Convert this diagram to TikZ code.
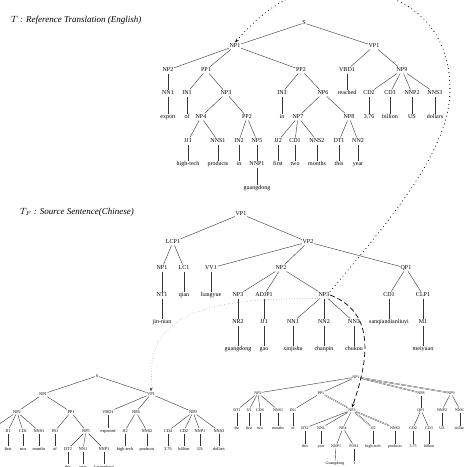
\documentclass[tikz,border=0pt]{standalone}
\usepackage{fontspec}
\setmainfont{Liberation Serif}
\usetikzlibrary{arrows.meta}
\tikzset{
  tl/.style={font=\fontsize{6}{7}\selectfont, inner sep=0.6pt, text height=4.2pt, text depth=1.2pt},
  bl/.style={font=\fontsize{4.3}{5}\selectfont, inner sep=0.5pt, text height=3pt, text depth=0.9pt},
  br/.style={font=\fontsize{4}{5}\selectfont, inner sep=0.5pt, text height=2.8pt, text depth=0.8pt},
  ttl/.style={font=\fontsize{9}{10}\selectfont\itshape, anchor=west, inner sep=0pt},
  ed/.style={draw=black!80, line width=0.4pt},
  dbl/.style={draw=black!85, line width=0.25pt, double, double distance=0.6pt},
  bigdots/.style={line width=1.1pt, line cap=round, dash pattern=on 0pt off 4pt},
  finedots/.style={draw=black!70, line width=0.5pt, line cap=round, dash pattern=on 0pt off 2.6pt},
  dsh/.style={line width=0.7pt, dash pattern=on 5pt off 3pt},
  tip/.style={-{Stealth[length=4pt,width=3pt]}}
}
\begin{document}
\begin{tikzpicture}[x=1pt,y=-1pt]
\useasboundingbox (0,0) rectangle (464,467);
\clip (0,0) rectangle (464,467);
% ---------------- titles
\node[ttl] (title1) at (11,20) {$T$ : Reference Translation (English)};
\node[ttl] (title2) at (20,212) {$T_F$ : Source Sentence(Chinese)};
% ---------------- top tree
\node[tl] (a_S) at (304,23) {S};
\node[tl] (a_NP1) at (235,46) {NP1};
\node[tl] (a_VP1) at (374,46) {VP1};
\node[tl] (a_NP2) at (168,70) {NP2};
\node[tl] (a_PP1) at (206,70) {PP1};
\node[tl] (a_PP2) at (301,70) {PP2};
\node[tl] (a_VBD1) at (347,70) {VBD1};
\node[tl] (a_NP9) at (402,70) {NP9};
\node[tl] (a_NN1) at (168,93) {NN1};
\node[tl] (a_IN1) at (187,93) {IN1};
\node[tl] (a_NP3) at (226,93) {NP3};
\node[tl] (a_IN3) at (282,93) {IN3};
\node[tl] (a_NP6) at (323,93) {NP6};
\node[tl] (a_reached) at (347,93) {reached};
\node[tl] (a_CD2) at (369,93) {CD2};
\node[tl] (a_CD3) at (390,93) {CD3};
\node[tl] (a_NNP2) at (412,93) {NNP2};
\node[tl] (a_NNS3) at (435,93) {NNS3};
\node[tl] (a_export) at (168,117) {export};
\node[tl] (a_of) at (187,117) {of};
\node[tl] (a_NP4) at (201,117) {NP4};
\node[tl] (a_PP2b) at (247,117) {PP2};
\node[tl] (a_in) at (282,117) {in};
\node[tl] (a_NP7) at (298,117) {NP7};
\node[tl] (a_NP8) at (349,117) {NP8};
\node[tl] (a_376) at (369,117) {3.76};
\node[tl] (a_billion) at (390,117) {billion};
\node[tl] (a_US) at (412,117) {US};
\node[tl] (a_dollars) at (435,117) {dollars};
\node[tl] (a_JJ1) at (188,141) {JJ1};
\node[tl] (a_NNS1) at (218,141) {NNS1};
\node[tl] (a_IN2) at (239,141) {IN2};
\node[tl] (a_NP5) at (257,141) {NP5};
\node[tl] (a_JJ2) at (278,141) {JJ2};
\node[tl] (a_CD1) at (295,141) {CD1};
\node[tl] (a_NNS2) at (317,141) {NNS2};
\node[tl] (a_DT1) at (339,141) {DT1};
\node[tl] (a_NN2) at (358,141) {NN2};
\node[tl] (a_hightech) at (188,164) {high-tech};
\node[tl] (a_products) at (218,164) {products};
\node[tl] (a_in2) at (239,164) {in};
\node[tl] (a_NNP1) at (257,164) {NNP1};
\node[tl] (a_first) at (278,164) {first};
\node[tl] (a_two) at (295,164) {two};
\node[tl] (a_months) at (317,164) {months};
\node[tl] (a_this) at (339,164) {this};
\node[tl] (a_year) at (358,164) {year};
\node[tl] (a_guangdong) at (257,188) {guangdong};
\foreach \p/\c in {a_S/a_NP1,a_S/a_VP1,a_NP1/a_NP2,a_NP1/a_PP1,a_NP1/a_PP2,a_VP1/a_VBD1,a_VP1/a_NP9,
  a_NP2/a_NN1,a_NN1/a_export,a_PP1/a_IN1,a_IN1/a_of,a_PP1/a_NP3,a_NP3/a_NP4,a_NP3/a_PP2b,
  a_NP4/a_JJ1,a_NP4/a_NNS1,a_JJ1/a_hightech,a_NNS1/a_products,a_PP2b/a_IN2,a_IN2/a_in2,a_PP2b/a_NP5,
  a_NP5/a_NNP1,a_NNP1/a_guangdong,a_PP2/a_IN3,a_IN3/a_in,a_PP2/a_NP6,a_NP6/a_NP7,a_NP6/a_NP8,
  a_NP7/a_JJ2,a_NP7/a_CD1,a_NP7/a_NNS2,a_JJ2/a_first,a_CD1/a_two,a_NNS2/a_months,
  a_NP8/a_DT1,a_NP8/a_NN2,a_DT1/a_this,a_NN2/a_year,a_VBD1/a_reached,
  a_NP9/a_CD2,a_NP9/a_CD3,a_NP9/a_NNP2,a_NP9/a_NNS3,a_CD2/a_376,a_CD3/a_billion,a_NNP2/a_US,a_NNS3/a_dollars}
  \draw[ed] (\p) -- (\c);
% ---------------- middle tree
\node[tl] (b_VP1) at (241,214) {VP1};
\node[tl] (b_LCP1) at (173,242) {LCP1};
\node[tl] (b_VP2) at (308,242) {VP2};
\node[tl] (b_NP1) at (162,268) {NP1};
\node[tl] (b_LC1) at (184,268) {LC1};
\node[tl] (b_VV1) at (211,268) {VV1};
\node[tl] (b_NP2) at (281,268) {NP2};
\node[tl] (b_QP1) at (406,268) {QP1};
\node[tl] (b_NT1) at (162,295) {NT1};
\node[tl] (b_qian) at (184,295) {qian};
\node[tl] (b_liangyue) at (211,295) {liangyue};
\node[tl] (b_NP3a) at (238,295) {NP3};
\node[tl] (b_ADJP1) at (264,295) {ADJP1};
\node[tl] (b_NP3) at (324,295) {NP3};
\node[tl] (b_CD1) at (389,295) {CD1};
\node[tl] (b_CLP1) at (423,295) {CLP1};
\node[tl] (b_jinnian) at (162,322) {jin-nian};
\node[tl] (b_NR2) at (238,322) {NR2};
\node[tl] (b_JJ1) at (264,322) {JJ1};
\node[tl] (b_NN1) at (293,322) {NN1};
\node[tl] (b_NN2) at (324,322) {NN2};
\node[tl] (b_NN3) at (354,322) {NN3};
\node[tl] (b_sanq) at (389,322) {sanqiandianliuyi};
\node[tl] (b_M1) at (423,322) {M1};
\node[tl] (b_guangdong) at (238,349) {guangdong};
\node[tl] (b_gao) at (264,349) {gao};
\node[tl] (b_xinjishu) at (293,349) {xinjishu};
\node[tl] (b_chanpin) at (324,349) {chanpin};
\node[tl] (b_chukou) at (354,349) {chukou};
\node[tl] (b_meiyuan) at (423,349) {meiyuan};
\foreach \p/\c in {b_VP1/b_LCP1,b_VP1/b_VP2,b_LCP1/b_NP1,b_LCP1/b_LC1,b_NP1/b_NT1,b_NT1/b_jinnian,
  b_LC1/b_qian,b_VP2/b_VV1,b_VV1/b_liangyue,b_VP2/b_NP2,b_VP2/b_QP1,b_NP2/b_NP3a,b_NP2/b_ADJP1,b_NP2/b_NP3,
  b_NP3a/b_NR2,b_NR2/b_guangdong,b_ADJP1/b_JJ1,b_JJ1/b_gao,b_NP3/b_NN1,b_NP3/b_NN2,b_NP3/b_NN3,
  b_NN1/b_xinjishu,b_NN2/b_chanpin,b_NN3/b_chukou,b_QP1/b_CD1,b_QP1/b_CLP1,b_CD1/b_sanq,b_CLP1/b_M1,b_M1/b_meiyuan}
  \draw[ed] (\p) -- (\c);
% ---------------- bottom-left tree
\node[bl] (c_S) at (97,376) {S};
\node[bl] (c_NP1) at (43,394) {NP1};
\node[bl] (c_VP1) at (151,394) {VP1};
\node[bl] (c_NP2) at (17,412) {NP2};
\node[bl] (c_PP1) at (71,412) {PP1};
\node[bl] (c_VBD1) at (108,412) {VBD1};
\node[bl] (c_NP4) at (136,412) {NP4};
\node[bl] (c_NP9) at (193,412) {NP9};
\coordinate (c_off) at (-8,429);
\node[bl] (c_JJ1) at (8,431) {JJ1};
\node[bl] (c_CD1) at (23,431) {CD1};
\node[bl] (c_NNS1) at (39,431) {NNS1};
\node[bl] (c_IN1) at (55,431) {IN1};
\node[bl] (c_NP5) at (86,431) {NP5};
\node[bl] (c_expected) at (108,431) {expected};
\node[bl] (c_JJ2) at (125,431) {JJ2};
\node[bl] (c_NNS2) at (147,431) {NNS2};
\node[bl] (c_CD4) at (168,431) {CD4};
\node[bl] (c_CD2) at (184,431) {CD2};
\node[bl] (c_NNP1) at (200,431) {NNP1};
\node[bl] (c_NNS3) at (219,431) {NNS3};
\node[bl] (c_first) at (8,449) {first};
\node[bl] (c_two) at (23,449) {two};
\node[bl] (c_months) at (39,449) {months};
\node[bl] (c_of) at (55,449) {of};
\node[bl] (c_DT2) at (68,449) {DT2};
\node[bl] (c_NN1) at (83,449) {NN1};
\node[bl] (c_NNP1b) at (104,449) {NNP1};
\node[bl] (c_hightech) at (125,449) {high-tech};
\node[bl] (c_products) at (147,449) {products};
\node[bl] (c_376) at (168,449) {3.76};
\node[bl] (c_billion) at (184,449) {billion};
\node[bl] (c_US) at (200,449) {US};
\node[bl] (c_dollars) at (219,449) {dollars};
\node[bl] (c_this) at (68,467) {this};
\node[bl] (c_year) at (83,467) {year};
\node[bl] (c_Guangdong) at (104,467) {Guangdong};
\foreach \p/\c in {c_S/c_NP1,c_S/c_VP1,c_NP1/c_NP2,c_NP1/c_PP1,c_VP1/c_VBD1,c_VP1/c_NP4,c_VP1/c_NP9,
  c_NP2/c_off,c_NP2/c_JJ1,c_NP2/c_CD1,c_NP2/c_NNS1,c_PP1/c_IN1,c_PP1/c_NP5,c_VBD1/c_expected,
  c_NP4/c_JJ2,c_NP4/c_NNS2,c_NP9/c_CD4,c_NP9/c_CD2,c_NP9/c_NNP1,c_NP9/c_NNS3,
  c_JJ1/c_first,c_CD1/c_two,c_NNS1/c_months,c_IN1/c_of,c_NP5/c_DT2,c_NP5/c_NN1,c_NP5/c_NNP1b,
  c_JJ2/c_hightech,c_NNS2/c_products,c_CD4/c_376,c_CD2/c_billion,c_NNP1/c_US,c_NNS3/c_dollars,
  c_DT2/c_this,c_NN1/c_year,c_NNP1b/c_Guangdong}
  \draw[ed] (\p) -- (\c);
% ---------------- bottom-right tree
\node[br] (d_NP1) at (356,377) {NP1};
\node[br] (d_NP2) at (258,393) {NP2};
\node[br] (d_PP1) at (321,393) {PP1};
\node[br] (d_NP8) at (421,393) {NP8};
\node[br] (d_NP9) at (451,393) {NP9};
\node[br] (d_DT1) at (237,410) {DT1};
\node[br] (d_JJ1) at (249,410) {JJ1};
\node[br] (d_CD1) at (260,410) {CD6};
\node[br] (d_NNS1) at (278,410) {NNS1};
\node[br] (d_IN1) at (293,410) {IN1};
\node[br] (d_NP3) at (352,410) {NP3};
\node[br] (d_QP1) at (421,410) {QP1};
\node[br] (d_NNP2) at (442,410) {NNP2};
\node[br] (d_NNS3) at (460,410) {NNS3};
\node[br] (d_the) at (237,428) {the};
\node[br] (d_first) at (249,428) {first};
\node[br] (d_two) at (260,428) {two};
\node[br] (d_months) at (278,428) {months};
\node[br] (d_of) at (293,428) {of};
\node[br] (d_DT2) at (305,428) {DT2};
\node[br] (d_NN1) at (321,428) {NN1};
\node[br] (d_NP4) at (343,428) {NP4};
\node[br] (d_JJ2) at (373,428) {JJ2};
\node[br] (d_NNS2) at (395,428) {NNS2};
\node[br] (d_CD2) at (413,428) {CD2};
\node[br] (d_CD3) at (429,428) {CD3};
\node[br] (d_US) at (442,428) {US};
\node[br] (d_dollars) at (460,428) {dollars};
\node[br] (d_this) at (305,446) {this};
\node[br] (d_year) at (321,446) {year};
\node[br] (d_NNP1) at (336,446) {NNP1};
\node[br] (d_POS1) at (354,446) {POS1};
\node[br] (d_hightech) at (373,446) {high-tech};
\node[br] (d_products) at (395,446) {products};
\node[br] (d_375) at (413,446) {3.75};
\node[br] (d_billion) at (429,446) {billion};
\node[br] (d_Guangdong) at (335,463) {Guangdong};
\node[br] (d_s) at (354,463) {'s};
\foreach \p/\c in {d_NP1/d_NP2,d_NP1/d_PP1,d_NP2/d_DT1,d_NP2/d_JJ1,d_NP2/d_CD1,d_NP2/d_NNS1,
  d_DT1/d_the,d_JJ1/d_first,d_CD1/d_two,d_NNS1/d_months,d_PP1/d_IN1,d_IN1/d_of,
  d_NP3/d_DT2,d_NP3/d_NN1,d_NP3/d_NP4,d_DT2/d_this,d_NN1/d_year,d_NP4/d_NNP1,d_NP4/d_POS1,
  d_NNP1/d_Guangdong,d_POS1/d_s,d_JJ2/d_hightech,d_NNS2/d_products,
  d_NP8/d_QP1,d_QP1/d_CD2,d_QP1/d_CD3,d_CD2/d_375,d_CD3/d_billion,
  d_NP9/d_NNP2,d_NP9/d_NNS3,d_NNP2/d_US,d_NNS3/d_dollars}
  \draw[ed] (\p) -- (\c);
\foreach \p/\c in {d_NP1/d_NP8,d_NP1/d_NP9,d_PP1/d_NP3,d_NP3/d_JJ2,d_NP3/d_NNS2}
  \draw[dbl] (\p) -- (\c);
% ---------------- alignment links
\draw[bigdots,tip] (b_NP3.north east) .. controls (390,220) and (450,150) .. (450,90)
  .. controls (450,20) and (400,-12) .. (335,-12)
  .. controls (285,-12) and (255,20) .. (a_NP1.north);
\draw[finedots,tip] (b_NP3.south west) .. controls (250,299) and (160,300) .. (152,362) -- (c_VP1.north);
\draw[dsh,tip] (b_NP3.east) .. controls (368,310) and (374,345) .. (d_NP3.north);
\end{tikzpicture}
\end{document}
